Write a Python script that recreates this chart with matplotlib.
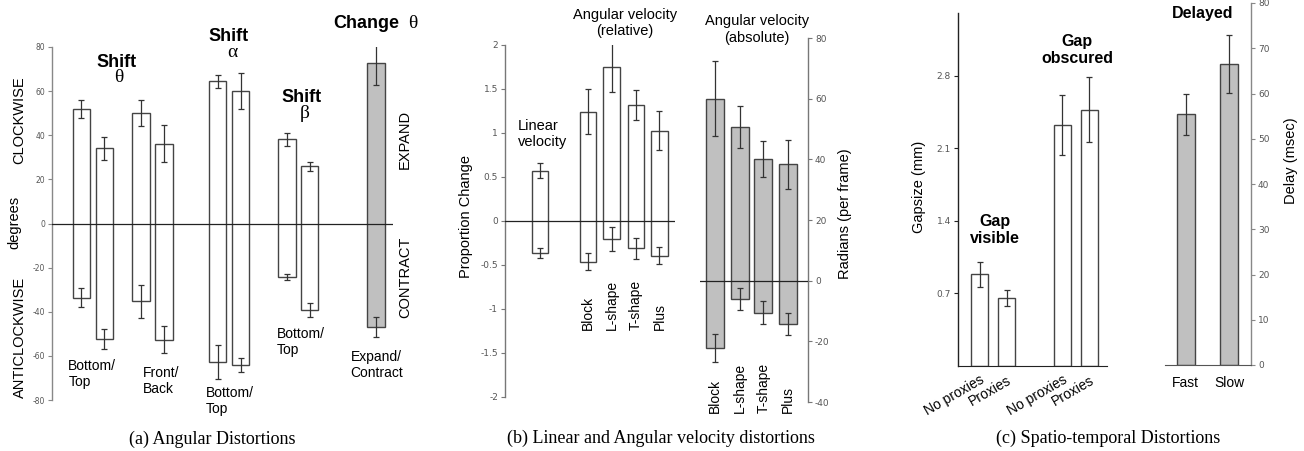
import matplotlib
matplotlib.use('Agg')
import matplotlib.pyplot as plt
import numpy as np

W, H = 1304, 451
SANS = 'Liberation Sans'
SERIF = 'Liberation Serif'
plt.rcParams['font.family'] = [SANS, 'DejaVu Sans']
plt.rcParams['axes.unicode_minus'] = False

# ---------------- data ----------------
# (a) Angular distortions: each bar spans from a negative to a positive mean
a_top = [51.9, 34.1, 49.9, 36.2, 64.5, 60.0, 38.2, 26.0, 72.9]
a_top_err = [4.0, 5.1, 5.9, 8.3, 2.9, 8.3, 3.0, 2.1, 10.0]
a_bot = [-33.6, -52.3, -35.3, -52.6, -62.8, -64.1, -24.3, -39.4, -46.8]
a_bot_err = [4.3, 4.5, 7.4, 6.2, 7.8, 3.3, 1.3, 3.2, 4.5]
a_gray = [False, False, False, False, False, False, False, False, True]
a_yticks = [-80, -60, -40, -20, 0, 20, 40, 60, 80]

# (b) Linear / angular velocity (relative)
b_rel_cats = ['Linear velocity', 'Block', 'L-shape', 'T-shape', 'Plus']
b_rel_top = [0.57, 1.24, 1.746, 1.318, 1.027]
b_rel_top_err = [0.085, 0.256, 0.275, 0.17, 0.22]
b_rel_bot = [-0.367, -0.462, -0.208, -0.31, -0.394]
b_rel_bot_err = [0.057, 0.095, 0.138, 0.117, 0.095]
b_rel_yticks = [-2, -1.5, -1, -0.5, 0, 0.5, 1, 1.5, 2]
b_rel_yticklabels = ['-2', '-1.5', '-1', '-0.5', '0', '0.5', '1', '1.5', '2']
# (b) angular velocity (absolute)
b_abs_cats = ['Block', 'L-shape', 'T-shape', 'Plus']
b_abs_top = [60.0, 50.6, 40.1, 38.3]
b_abs_top_err = [12.3, 7.0, 6.0, 8.1]
b_abs_bot = [-22.1, -6.0, -10.6, -14.2]
b_abs_bot_err = [4.65, 3.6, 3.85, 3.55]
b_abs_yticks = [-40, -20, 0, 20, 40, 60, 80]

# (c) Spatio-temporal
c_gap_cats = ['No proxies', 'Proxies', 'No proxies', 'Proxies']
c_gap = [0.886, 0.655, 2.32, 2.47]
c_gap_err = [0.12, 0.08, 0.29, 0.315]
c_gap_yticks = [0.7, 1.4, 2.1, 2.8]
c_delay_cats = ['Fast', 'Slow']
c_delay = [55.4, 66.5]
c_delay_err = [4.6, 6.4]
c_delay_yticks = [0, 10, 20, 30, 40, 50, 60, 70, 80]

# ---------------- layout helpers ----------------
fig = plt.figure(figsize=(W / 100, H / 100), dpi=100)

def add_ax(left, top, right, bottom):
    ax = fig.add_axes([left / W, 1 - bottom / H, (right - left) / W, (bottom - top) / H])
    ax.patch.set_alpha(0)
    for s in ax.spines.values():
        s.set_visible(False)
    return ax

def T(x, y, s, **kw):
    kw.setdefault('ha', 'center')
    kw.setdefault('va', 'center')
    return fig.text(x / W, 1 - y / H, s, **kw)

def style_y(ax, side='left', color='#777777', labelsize=6):
    ax.spines[side].set_visible(True)
    ax.spines[side].set_color(color)
    ax.spines[side].set_linewidth(1.0)
    if side == 'right':
        ax.yaxis.tick_right()
    ax.tick_params(axis='y', direction='out', length=3, width=0.8, color=color,
                   labelsize=labelsize, labelcolor='#555555', pad=2)
    for lab in ax.get_yticklabels():
        lab.set_family('DejaVu Sans')

EDGE = '#444444'
ERR = '#333333'
GRAY = '#c0c0c0'

def span_bars(ax, pos, top, bot, top_err, bot_err, width, colors):
    top = np.asarray(top); bot = np.asarray(bot)
    ax.bar(pos, top - bot, bottom=bot, width=width, color=colors,
           edgecolor=EDGE, linewidth=1.0, zorder=2)
    ax.errorbar(pos, top, yerr=top_err, fmt='none', ecolor=ERR, elinewidth=0.9,
                capsize=2.4, capthick=0.9, zorder=3)
    ax.errorbar(pos, bot, yerr=bot_err, fmt='none', ecolor=ERR, elinewidth=0.9,
                capsize=2.4, capthick=0.9, zorder=3)

# ---------------- panel (a) ----------------
ax_a = add_ax(52, 47, 393, 400)
ax_a.set_ylim(-80, 80)
ax_a.set_xlim(0, 14.83)
a_group_centers = [1.78, 4.38, 7.70, 10.71]
a_pos = [c + d for c in a_group_centers for d in (-0.5, 0.5)] + [14.09]
a_colors = [GRAY if g else 'white' for g in a_gray]
span_bars(ax_a, a_pos, a_top, a_bot, a_top_err, a_bot_err, 0.76, a_colors)
ax_a.axhline(0, color='#222222', lw=0.9, zorder=4)
ax_a.set_xticks([])
ax_a.set_yticks(a_yticks)
style_y(ax_a, 'left', '#888888', 5.5)

T(116.5, 67, 'Shift', fontsize=13, fontweight='bold', va='baseline')
T(119, 82, 'θ', fontsize=14, family=SERIF, va='baseline')
T(228.5, 41, 'Shift', fontsize=13, fontweight='bold', va='baseline')
T(232, 57, 'α', fontsize=14, family=SERIF, va='baseline')
T(302, 102, 'Shift', fontsize=13, fontweight='bold', va='baseline')
T(305, 118, 'β', fontsize=14, family=SERIF, va='baseline')
T(366, 28.5, 'Change', fontsize=13, fontweight='bold', va='baseline')
T(413, 28.5, 'θ', fontsize=14, family=SERIF, va='baseline')

T(19.5, 120, 'CLOCKWISE', fontsize=10.5, rotation=90)
T(14.5, 222, 'degrees', fontsize=10.5, rotation=90)
T(20, 337, 'ANTICLOCKWISE', fontsize=10.5, rotation=90)
T(405, 139, 'EXPAND', fontsize=10.5, rotation=90)
T(405, 277.5, 'CONTRACT', fontsize=10.5, rotation=90)

T(68.3, 374, 'Bottom/\nTop', fontsize=10, ha='left')
T(143.3, 381, 'Front/\nBack', fontsize=10, ha='left')
T(206, 401, 'Bottom/\nTop', fontsize=10, ha='left')
T(276.7, 342, 'Bottom/\nTop', fontsize=10, ha='left')
T(350.7, 365, 'Expand/\nContract', fontsize=10, ha='left')
T(212, 439, '(a) Angular Distortions', fontsize=13, family=SERIF)

# ---------------- panel (b) left ----------------
ax_b = add_ax(505, 45, 675, 397)
ax_b.set_ylim(-2, 2)
ax_b.set_xlim(0, 7.23)
b_rel_pos = [1.49, 3.53, 4.53, 5.57, 6.57]
span_bars(ax_b, b_rel_pos, b_rel_top, b_rel_bot, b_rel_top_err, b_rel_bot_err,
          0.72, ['white'] * 5)
ax_b.axhline(0, color='#222222', lw=0.9, zorder=4)
ax_b.set_xticks([])
ax_b.set_yticks(b_rel_yticks, b_rel_yticklabels)
style_y(ax_b, 'left', '#777777', 6.5)
for p, lab in zip(b_rel_pos[1:], b_rel_cats[1:]):
    ax_b.text(p, -1.24, lab, rotation=90, ha='center', va='bottom', fontsize=10)
T(518, 134, 'Linear\nvelocity', fontsize=10.5, ha='left')
T(625, 23, 'Angular velocity\n(relative)', fontsize=10.5)
T(466, 217, 'Proportion Change', fontsize=10.5, rotation=90)

# ---------------- panel (b) right ----------------
ax_b2 = add_ax(700, 38, 808, 402)
ax_b2.set_ylim(-40, 80)
ax_b2.set_xlim(0, 4.44)
b_abs_pos = [0.62, 1.63, 2.61, 3.62]
span_bars(ax_b2, b_abs_pos, b_abs_top, b_abs_bot, b_abs_top_err, b_abs_bot_err,
          0.74, [GRAY] * 4)
ax_b2.axhline(0, color='#222222', lw=0.9, zorder=4)
ax_b2.set_xticks([])
ax_b2.set_yticks(b_abs_yticks)
style_y(ax_b2, 'right', '#777777', 6.5)
for p, lab in zip(b_abs_pos, b_abs_cats):
    ax_b2.text(p, -43.6, lab, rotation=90, ha='center', va='bottom', fontsize=10,
               clip_on=False)
T(757, 29.5, 'Angular velocity\n(absolute)', fontsize=10.5)
T(845, 214, 'Radians (per frame)', fontsize=10.5, rotation=90)
T(661, 438, '(b) Linear and Angular velocity distortions', fontsize=13, family=SERIF)

# ---------------- panel (c) left ----------------
ax_c = add_ax(958, 3, 1107, 366)
ax_c.set_ylim(0, 3.5)
ax_c.set_xlim(0, 5.52)
c_gap_pos = [0.80, 1.80, 3.87, 4.87]
ax_c.bar(c_gap_pos, c_gap, width=0.63, color='white', edgecolor=EDGE, lw=1.0, zorder=2)
ax_c.errorbar(c_gap_pos, c_gap, yerr=c_gap_err, fmt='none', ecolor=ERR, elinewidth=0.9,
              capsize=2.4, capthick=0.9, zorder=3)
ax_c.spines['bottom'].set_visible(True)
ax_c.spines['bottom'].set_color('#222222')
ax_c.set_yticks(c_gap_yticks, [f'{v:.1f}' for v in c_gap_yticks])
style_y(ax_c, 'left', '#222222', 6.5)
ax_c.spines['left'].set_bounds(0, 3.4)
ax_c.set_xticks(c_gap_pos, c_gap_cats)
ax_c.tick_params(axis='x', length=0, pad=5, labelsize=10)
for lab in ax_c.get_xticklabels():
    lab.set_rotation(30)
    lab.set_ha('right')
    lab.set_va('top')
    lab.set_rotation_mode('anchor')
T(995, 230, 'Gap\nvisible', fontsize=11.5, fontweight='bold')
T(1077, 50, 'Gap\nobscured', fontsize=11.5, fontweight='bold')
T(919, 187, 'Gapsize (mm)', fontsize=10.5, rotation=90)

# ---------------- panel (c) right ----------------
ax_c2 = add_ax(1165, 3, 1251, 365)
ax_c2.set_ylim(0, 80)
ax_c2.set_xlim(0, 1.98)
c_delay_pos = [0.48, 1.48]
ax_c2.bar(c_delay_pos, c_delay, width=0.41, color=GRAY, edgecolor=EDGE, lw=1.0, zorder=2)
ax_c2.errorbar(c_delay_pos, c_delay, yerr=c_delay_err, fmt='none', ecolor=ERR,
               elinewidth=0.9, capsize=2.4, capthick=0.9, zorder=3)
ax_c2.spines['bottom'].set_visible(True)
ax_c2.spines['bottom'].set_color('#555555')
ax_c2.set_yticks(c_delay_yticks)
style_y(ax_c2, 'right', '#888888', 6.5)
ax_c2.set_xticks(c_delay_pos, c_delay_cats)
ax_c2.tick_params(axis='x', length=0, pad=8, labelsize=10)
T(1203, 13.5, 'Delayed', fontsize=11.5, fontweight='bold')
T(1291, 161, 'Delay (msec)', fontsize=10.5, rotation=90)
T(1108.5, 438, '(c) Spatio-temporal Distortions', fontsize=13, family=SERIF)

fig.savefig('out.png', dpi=100)
